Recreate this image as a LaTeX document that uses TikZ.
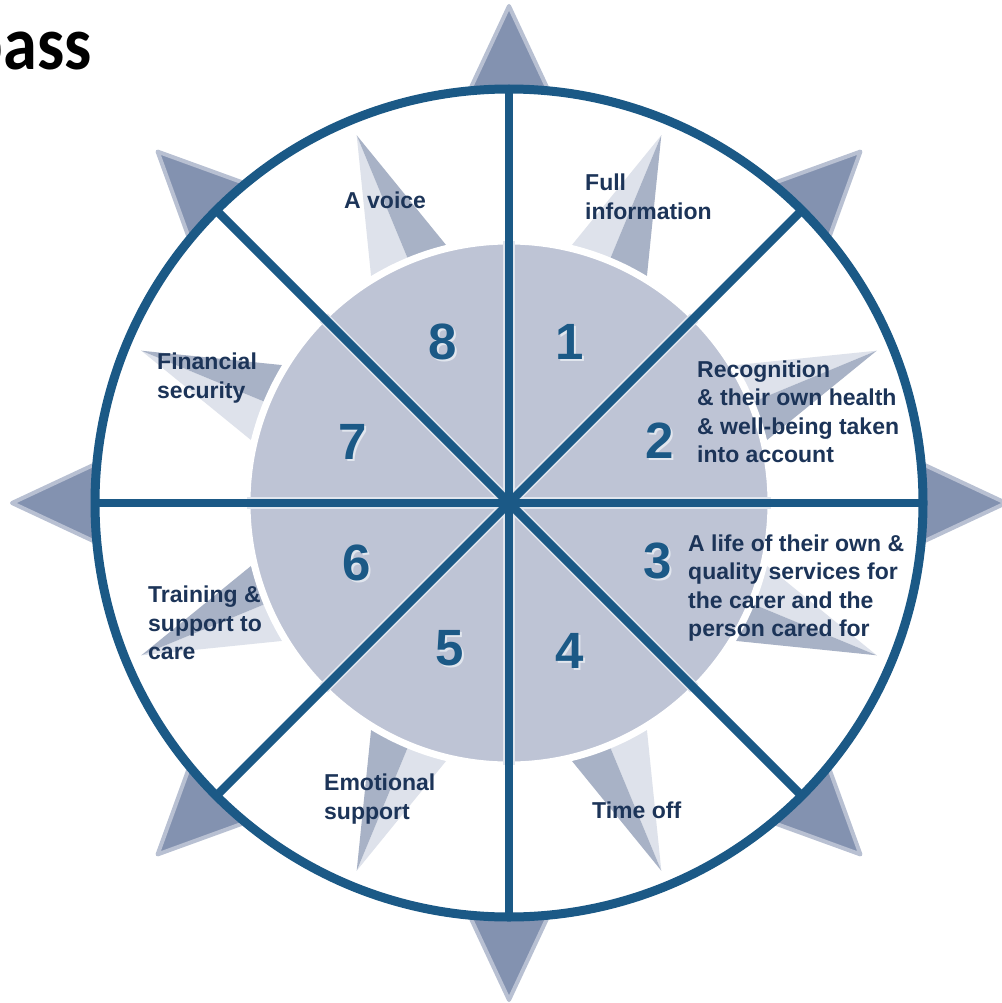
\documentclass[tikz,border=0pt]{standalone}
\usepackage{fontspec}
\setmainfont{Liberation Sans}
\newfontfamily\titlefont{Carlito}
\definecolor{ln}{RGB}{27,89,134}
\definecolor{disk}{RGB}{190,196,213}
\definecolor{trifill}{RGB}{131,146,176}
\definecolor{triedge}{RGB}{184,192,210}
\definecolor{inlight}{RGB}{222,226,235}
\definecolor{indark}{RGB}{168,178,198}
\definecolor{txt}{RGB}{28,52,88}
\definecolor{halo}{RGB}{225,230,238}
\begin{document}
\begin{tikzpicture}[x=1pt,y=-1pt,
  lbl/.style={font=\fontsize{23}{28.5}\selectfont\bfseries, text=txt, align=left, anchor=west, inner sep=0pt},
  num/.style={font=\fontsize{51}{51}\selectfont\bfseries, text=ln, inner sep=0pt},
  numshadow/.style={font=\fontsize{51}{51}\selectfont\bfseries, text=halo, inner sep=0pt},
  spokehalo/.style={draw=halo, line width=12pt},
  spoke/.style={draw=ln, line width=8.5pt},
  outertri/.style={fill=trifill, draw=triedge, line width=4pt, line join=round},
]
\useasboundingbox (0,0) rectangle (1001,1003);
\fill[white] (0,0) rectangle (1001,1003);

% title (cut off at the left edge, as in the reference)
\node[font=\titlefont\fontsize{76}{76}\selectfont\bfseries, anchor=base east, inner sep=0pt] (title) at (92,70) {\scalebox{0.9}[1]{pass}};

\begin{scope}[shift={(509,503)}, yscale=-1]
  % outer compass points
  \foreach \a in {0,45,...,315}{
    \path[outertri] (\a:497) -- (\a+6:408) -- (\a-6:408) -- cycle;
  }
  % white ring
  \fill[white] (0,0) circle (414);
  % inner two-tone points
  \foreach \a in {22.5,67.5,...,337.5}{
    \fill[inlight] (\a:398) -- (\a:250) -- (\a+10.5:250) -- cycle;
    \fill[indark] (\a:398) -- (\a:250) -- (\a-10.5:250) -- cycle;
  }
  % inner disk
  \filldraw[fill=disk, draw=white, line width=7pt] (0,0) circle (262);
  % spokes
  \foreach \a in {0,45,...,315}{
    \draw[spokehalo] (0,0) -- (\a:262);
  }
  \foreach \a in {0,45,...,315}{
    \draw[spoke] (0,0) -- (\a:414);
  }
  \draw[ln, line width=9pt] (0,0) circle (414);
\end{scope}

% numbers
\foreach \n/\x/\y in {1/570/342, 2/660/441, 3/658/561, 4/570/651, 5/450/648, 6/357/563, 7/353/442, 8/443/342}{
  \node[numshadow] at (\x+1.8,\y+1.8) {\n};
  \node[num] (n\n) at (\x,\y) {\n};
}

% labels
\node[lbl] (voice) at (344,200) {A voice};
\node[lbl] (info) at (585,197) {Full\\information};
\node[lbl] (recog) at (697,412) {Recognition\\\& their own health\\\& well-being taken\\into account};
\node[lbl] (life) at (688,588) {A life of their own \&\\quality services for\\the carer and the\\person cared for};
\node[lbl] (fin) at (157,378) {Financial\\security};
\node[lbl] (train) at (148,623) {Training \&\\support to\\care};
\node[lbl] (emo) at (324,799) {Emotional\\support};
\node[lbl] (time) at (592,810) {Time off};
\end{tikzpicture}
\end{document}
